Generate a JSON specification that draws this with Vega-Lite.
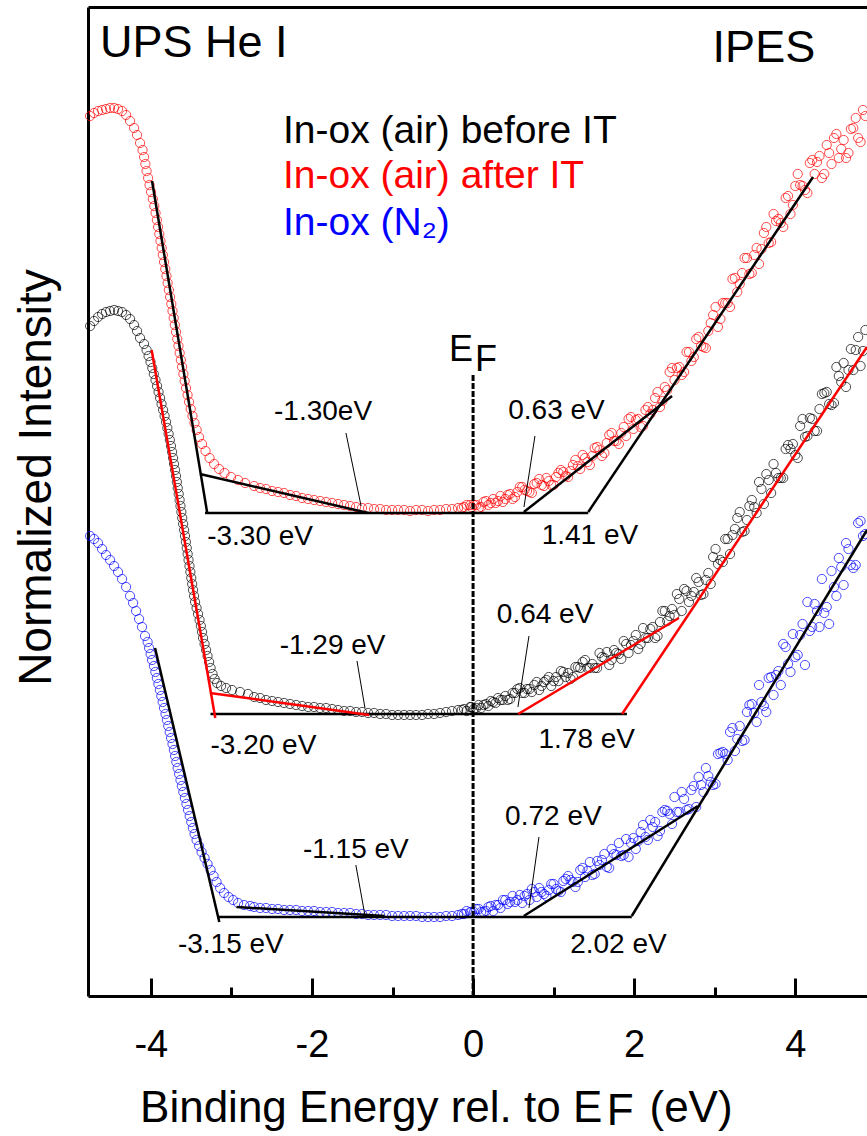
{
  "$schema": "https://vega.github.io/schema/vega-lite/v6.json",
  "width": 779,
  "height": 989,
  "autosize": "none",
  "padding": {"left": 88, "top": 7, "right": 0, "bottom": 140},
  "background": "white",
  "config": {"view": {"stroke": null}, "font": "Liberation Sans"},
  "datasets": {
    "spectra": [
      {"s":"after","x":-4.754,"y":880},{"s":"after","x":-4.705,"y":883},{"s":"after","x":-4.655,"y":885},{"s":"after","x":-4.605,"y":886},{"s":"after","x":-4.556,"y":887},{"s":"after","x":-4.506,"y":888},{"s":"after","x":-4.456,"y":888},{"s":"after","x":-4.407,"y":887},{"s":"after","x":-4.357,"y":885},{"s":"after","x":-4.307,"y":881},{"s":"after","x":-4.258,"y":875},{"s":"after","x":-4.208,"y":868},{"s":"after","x":-4.171,"y":861},{"s":"after","x":-4.134,"y":853},
      {"s":"after","x":-4.103,"y":846},{"s":"after","x":-4.084,"y":839},{"s":"after","x":-4.068,"y":832},{"s":"after","x":-4.053,"y":825},{"s":"after","x":-4.034,"y":818},{"s":"after","x":-4.016,"y":811},{"s":"after","x":-3.997,"y":804},{"s":"after","x":-3.975,"y":797},{"s":"after","x":-3.957,"y":790},{"s":"after","x":-3.941,"y":783},{"s":"after","x":-3.925,"y":776},{"s":"after","x":-3.910,"y":769},{"s":"after","x":-3.895,"y":762},{"s":"after","x":-3.880,"y":755},{"s":"after","x":-3.865,"y":748},{"s":"after","x":-3.851,"y":741},{"s":"after","x":-3.836,"y":734},{"s":"after","x":-3.821,"y":727},{"s":"after","x":-3.806,"y":720},{"s":"after","x":-3.791,"y":713},{"s":"after","x":-3.776,"y":706},{"s":"after","x":-3.761,"y":699},{"s":"after","x":-3.746,"y":692},{"s":"after","x":-3.731,"y":685},{"s":"after","x":-3.716,"y":678},{"s":"after","x":-3.702,"y":671},{"s":"after","x":-3.687,"y":664},{"s":"after","x":-3.672,"y":657},{"s":"after","x":-3.657,"y":650},{"s":"after","x":-3.642,"y":643},{"s":"after","x":-3.627,"y":636},{"s":"after","x":-3.612,"y":629},{"s":"after","x":-3.596,"y":622},{"s":"after","x":-3.580,"y":615},{"s":"after","x":-3.563,"y":608},{"s":"after","x":-3.544,"y":601},{"s":"after","x":-3.525,"y":594},{"s":"after","x":-3.505,"y":587},{"s":"after","x":-3.483,"y":580},{"s":"after","x":-3.458,"y":573},{"s":"after","x":-3.431,"y":566},{"s":"after","x":-3.401,"y":559},{"s":"after","x":-3.364,"y":552},{"s":"after","x":-3.321,"y":545},{"s":"after","x":-3.271,"y":538},{"s":"after","x":-3.215,"y":532},{"s":"after","x":-3.153,"y":527},{"s":"after","x":-3.085,"y":523},{"s":"after","x":-3.004,"y":519},{"s":"after","x":-2.917,"y":516},{"s":"after","x":-2.830,"y":513},
      {"s":"after","x":-2.718,"y":510},{"s":"after","x":-2.644,"y":508},{"s":"after","x":-2.570,"y":507},{"s":"after","x":-2.495,"y":505},{"s":"after","x":-2.421,"y":504},{"s":"after","x":-2.346,"y":503},{"s":"after","x":-2.272,"y":501},{"s":"after","x":-2.197,"y":500},{"s":"after","x":-2.123,"y":498},{"s":"after","x":-2.048,"y":497},{"s":"after","x":-1.974,"y":496},{"s":"after","x":-1.899,"y":495},{"s":"after","x":-1.825,"y":494},{"s":"after","x":-1.750,"y":493},{"s":"after","x":-1.676,"y":492},{"s":"after","x":-1.601,"y":491},{"s":"after","x":-1.527,"y":490},{"s":"after","x":-1.452,"y":489},{"s":"after","x":-1.378,"y":488},{"s":"after","x":-1.303,"y":488},{"s":"after","x":-1.229,"y":487},{"s":"after","x":-1.154,"y":487},{"s":"after","x":-1.080,"y":486},{"s":"after","x":-1.005,"y":486},{"s":"after","x":-0.931,"y":486},{"s":"after","x":-0.856,"y":486},{"s":"after","x":-0.782,"y":485},{"s":"after","x":-0.708,"y":486},{"s":"after","x":-0.633,"y":486},{"s":"after","x":-0.559,"y":485},{"s":"after","x":-0.484,"y":486},{"s":"after","x":-0.410,"y":486},{"s":"after","x":-0.335,"y":487},{"s":"after","x":-0.261,"y":487},{"s":"after","x":-0.186,"y":488},{"s":"after","x":-0.112,"y":489},{"s":"after","x":-0.037,"y":491},
      {"s":"after","x":-0.14,"y":488},{"s":"after","x":-0.08,"y":491},{"s":"after","x":-0.02,"y":489},{"s":"after","x":0.04,"y":491},{"s":"after","x":0.10,"y":489},{"s":"after","x":0.16,"y":495},{"s":"after","x":0.22,"y":493},{"s":"after","x":0.28,"y":493},{"s":"after","x":0.34,"y":500},{"s":"after","x":0.40,"y":497},{"s":"after","x":0.46,"y":502},{"s":"after","x":0.52,"y":499},{"s":"after","x":0.58,"y":509},{"s":"after","x":0.64,"y":506},{"s":"after","x":0.70,"y":504},{"s":"after","x":0.76,"y":512},{"s":"after","x":0.82,"y":517},{"s":"after","x":0.88,"y":510},{"s":"after","x":0.94,"y":515},{"s":"after","x":1.00,"y":511},{"s":"after","x":1.06,"y":523},{"s":"after","x":1.12,"y":524},{"s":"after","x":1.18,"y":519},{"s":"after","x":1.24,"y":531},{"s":"after","x":1.30,"y":530},{"s":"after","x":1.36,"y":541},{"s":"after","x":1.42,"y":534},{"s":"after","x":1.48,"y":540},{"s":"after","x":1.54,"y":549},{"s":"after","x":1.60,"y":540},{"s":"after","x":1.66,"y":553},{"s":"after","x":1.72,"y":563},{"s":"after","x":1.78,"y":555},{"s":"after","x":1.84,"y":563},{"s":"after","x":1.90,"y":560},{"s":"after","x":1.96,"y":579},{"s":"after","x":2.02,"y":576},{"s":"after","x":2.08,"y":569},{"s":"after","x":2.14,"y":586},{"s":"after","x":2.20,"y":582},{"s":"after","x":2.26,"y":598},{"s":"after","x":2.32,"y":589},{"s":"after","x":2.38,"y":609},{"s":"after","x":2.44,"y":624},{"s":"after","x":2.50,"y":616},{"s":"after","x":2.56,"y":629},{"s":"after","x":2.62,"y":624},{"s":"after","x":2.68,"y":644},{"s":"after","x":2.74,"y":639},{"s":"after","x":2.80,"y":659},{"s":"after","x":2.86,"y":649},{"s":"after","x":2.92,"y":665},{"s":"after","x":2.98,"y":681},{"s":"after","x":3.04,"y":669},{"s":"after","x":3.10,"y":693},{"s":"after","x":3.16,"y":693},{"s":"after","x":3.22,"y":717},{"s":"after","x":3.28,"y":704},{"s":"after","x":3.34,"y":723},{"s":"after","x":3.40,"y":738},{"s":"after","x":3.46,"y":723},{"s":"after","x":3.52,"y":748},{"s":"after","x":3.58,"y":747},{"s":"after","x":3.64,"y":769},{"s":"after","x":3.70,"y":754},{"s":"after","x":3.76,"y":775},{"s":"after","x":3.82,"y":773},{"s":"after","x":3.88,"y":798},{"s":"after","x":3.94,"y":782},{"s":"after","x":4.00,"y":810},{"s":"after","x":4.06,"y":811},{"s":"after","x":4.12,"y":806},{"s":"after","x":4.18,"y":833},{"s":"after","x":4.24,"y":822},{"s":"after","x":4.30,"y":840},{"s":"after","x":4.36,"y":822},{"s":"after","x":4.42,"y":843},{"s":"after","x":4.48,"y":858},{"s":"after","x":4.54,"y":838},{"s":"after","x":4.60,"y":856},{"s":"after","x":4.66,"y":843},{"s":"after","x":4.72,"y":868},{"s":"after","x":4.78,"y":858},{"s":"after","x":4.84,"y":886},
      {"s":"after","x":0.01,"y":491},{"s":"after","x":0.07,"y":488},{"s":"after","x":0.13,"y":494},{"s":"after","x":0.19,"y":491},{"s":"after","x":0.25,"y":497},{"s":"after","x":0.31,"y":495},{"s":"after","x":0.37,"y":494},{"s":"after","x":0.43,"y":501},{"s":"after","x":0.49,"y":497},{"s":"after","x":0.55,"y":504},{"s":"after","x":0.61,"y":509},{"s":"after","x":0.67,"y":505},{"s":"after","x":0.73,"y":503},{"s":"after","x":0.79,"y":513},{"s":"after","x":0.85,"y":511},{"s":"after","x":0.91,"y":518},{"s":"after","x":0.97,"y":511},{"s":"after","x":1.03,"y":519},{"s":"after","x":1.09,"y":526},{"s":"after","x":1.15,"y":520},{"s":"after","x":1.21,"y":525},{"s":"after","x":1.27,"y":536},{"s":"after","x":1.33,"y":527},{"s":"after","x":1.39,"y":538},{"s":"after","x":1.45,"y":531},{"s":"after","x":1.51,"y":548},{"s":"after","x":1.57,"y":546},{"s":"after","x":1.63,"y":543},{"s":"after","x":1.69,"y":561},{"s":"after","x":1.75,"y":555},{"s":"after","x":1.81,"y":552},{"s":"after","x":1.87,"y":569},{"s":"after","x":1.93,"y":577},{"s":"after","x":1.99,"y":567},{"s":"after","x":2.05,"y":577},{"s":"after","x":2.11,"y":570},{"s":"after","x":2.17,"y":589},{"s":"after","x":2.23,"y":586},{"s":"after","x":2.29,"y":604},{"s":"after","x":2.35,"y":595},{"s":"after","x":2.41,"y":606},{"s":"after","x":2.47,"y":628},{"s":"after","x":2.53,"y":628},{"s":"after","x":2.59,"y":621},{"s":"after","x":2.65,"y":644},{"s":"after","x":2.71,"y":635},{"s":"after","x":2.77,"y":657},{"s":"after","x":2.83,"y":650},{"s":"after","x":2.89,"y":648},{"s":"after","x":2.95,"y":673},{"s":"after","x":3.01,"y":689},{"s":"after","x":3.07,"y":677},{"s":"after","x":3.13,"y":693},{"s":"after","x":3.19,"y":689},{"s":"after","x":3.25,"y":718},{"s":"after","x":3.31,"y":712},{"s":"after","x":3.37,"y":738},{"s":"after","x":3.43,"y":722},{"s":"after","x":3.49,"y":741},{"s":"after","x":3.55,"y":732},{"s":"after","x":3.61,"y":763},{"s":"after","x":3.67,"y":753},{"s":"after","x":3.73,"y":782},{"s":"after","x":3.79,"y":777},{"s":"after","x":3.85,"y":769},{"s":"after","x":3.91,"y":800},{"s":"after","x":3.97,"y":791},{"s":"after","x":4.03,"y":822},{"s":"after","x":4.09,"y":810},{"s":"after","x":4.15,"y":803},{"s":"after","x":4.21,"y":836},{"s":"after","x":4.27,"y":834},{"s":"after","x":4.33,"y":818},{"s":"after","x":4.39,"y":851},{"s":"after","x":4.45,"y":832},{"s":"after","x":4.51,"y":862},{"s":"after","x":4.57,"y":847},{"s":"after","x":4.63,"y":838},{"s":"after","x":4.69,"y":867},{"s":"after","x":4.75,"y":878},{"s":"after","x":4.81,"y":854},{"s":"after","x":4.87,"y":880},

      {"s":"before","x":-4.754,"y":670},{"s":"before","x":-4.705,"y":675},{"s":"before","x":-4.655,"y":679},{"s":"before","x":-4.605,"y":682},{"s":"before","x":-4.556,"y":684},{"s":"before","x":-4.506,"y":685},{"s":"before","x":-4.456,"y":686},{"s":"before","x":-4.407,"y":685},{"s":"before","x":-4.357,"y":684},{"s":"before","x":-4.307,"y":681},{"s":"before","x":-4.258,"y":677},{"s":"before","x":-4.208,"y":671},{"s":"before","x":-4.171,"y":665},
      {"s":"before","x":-4.134,"y":658},{"s":"before","x":-4.084,"y":652},{"s":"before","x":-4.053,"y":646},{"s":"before","x":-4.028,"y":640},{"s":"before","x":-4.004,"y":634},{"s":"before","x":-3.982,"y":628},{"s":"before","x":-3.963,"y":622},{"s":"before","x":-3.942,"y":616},{"s":"before","x":-3.923,"y":610},{"s":"before","x":-3.904,"y":604},{"s":"before","x":-3.885,"y":598},{"s":"before","x":-3.867,"y":592},{"s":"before","x":-3.848,"y":586},{"s":"before","x":-3.829,"y":580},{"s":"before","x":-3.811,"y":574},{"s":"before","x":-3.795,"y":568},{"s":"before","x":-3.779,"y":562},{"s":"before","x":-3.764,"y":556},{"s":"before","x":-3.750,"y":550},{"s":"before","x":-3.736,"y":544},{"s":"before","x":-3.724,"y":538},{"s":"before","x":-3.712,"y":532},{"s":"before","x":-3.699,"y":526},{"s":"before","x":-3.688,"y":520},{"s":"before","x":-3.677,"y":514},{"s":"before","x":-3.666,"y":508},{"s":"before","x":-3.654,"y":502},{"s":"before","x":-3.643,"y":496},{"s":"before","x":-3.632,"y":490},{"s":"before","x":-3.621,"y":484},{"s":"before","x":-3.610,"y":478},{"s":"before","x":-3.599,"y":472},{"s":"before","x":-3.587,"y":466},{"s":"before","x":-3.576,"y":460},{"s":"before","x":-3.565,"y":454},{"s":"before","x":-3.554,"y":448},{"s":"before","x":-3.543,"y":442},{"s":"before","x":-3.532,"y":436},{"s":"before","x":-3.520,"y":430},{"s":"before","x":-3.509,"y":424},{"s":"before","x":-3.498,"y":418},{"s":"before","x":-3.487,"y":412},{"s":"before","x":-3.476,"y":406},{"s":"before","x":-3.463,"y":400},{"s":"before","x":-3.451,"y":394},{"s":"before","x":-3.432,"y":388},{"s":"before","x":-3.414,"y":382},{"s":"before","x":-3.395,"y":376},{"s":"before","x":-3.379,"y":370},{"s":"before","x":-3.364,"y":364},{"s":"before","x":-3.352,"y":358},{"s":"before","x":-3.333,"y":352},{"s":"before","x":-3.314,"y":346},{"s":"before","x":-3.296,"y":340},{"s":"before","x":-3.277,"y":334},{"s":"before","x":-3.258,"y":328},{"s":"before","x":-3.234,"y":322},{"s":"before","x":-3.209,"y":317},{"s":"before","x":-3.178,"y":313},{"s":"before","x":-3.128,"y":310},{"s":"before","x":-3.066,"y":308},{"s":"before","x":-2.992,"y":306},{"s":"before","x":-2.892,"y":304},{"s":"before","x":-2.793,"y":302},
      {"s":"before","x":-2.718,"y":299},{"s":"before","x":-2.644,"y":298},{"s":"before","x":-2.570,"y":296},{"s":"before","x":-2.495,"y":295},{"s":"before","x":-2.421,"y":294},{"s":"before","x":-2.346,"y":293},{"s":"before","x":-2.272,"y":292},{"s":"before","x":-2.197,"y":291},{"s":"before","x":-2.123,"y":290},{"s":"before","x":-2.048,"y":289},{"s":"before","x":-1.974,"y":289},{"s":"before","x":-1.899,"y":288},{"s":"before","x":-1.825,"y":288},{"s":"before","x":-1.750,"y":287},{"s":"before","x":-1.676,"y":286},{"s":"before","x":-1.601,"y":285},{"s":"before","x":-1.527,"y":285},{"s":"before","x":-1.452,"y":284},{"s":"before","x":-1.378,"y":284},{"s":"before","x":-1.303,"y":283},{"s":"before","x":-1.229,"y":283},{"s":"before","x":-1.154,"y":282},{"s":"before","x":-1.080,"y":282},{"s":"before","x":-1.005,"y":281},{"s":"before","x":-0.931,"y":281},{"s":"before","x":-0.856,"y":281},{"s":"before","x":-0.782,"y":281},{"s":"before","x":-0.708,"y":281},{"s":"before","x":-0.633,"y":281},{"s":"before","x":-0.559,"y":282},{"s":"before","x":-0.484,"y":282},{"s":"before","x":-0.410,"y":283},{"s":"before","x":-0.335,"y":284},{"s":"before","x":-0.261,"y":285},{"s":"before","x":-0.186,"y":286},{"s":"before","x":-0.112,"y":287},{"s":"before","x":-0.037,"y":289},
      {"s":"before","x":-0.14,"y":286},{"s":"before","x":-0.08,"y":285},{"s":"before","x":-0.02,"y":289},{"s":"before","x":0.04,"y":288},{"s":"before","x":0.10,"y":288},{"s":"before","x":0.16,"y":292},{"s":"before","x":0.22,"y":295},{"s":"before","x":0.28,"y":293},{"s":"before","x":0.34,"y":296},{"s":"before","x":0.40,"y":300},{"s":"before","x":0.46,"y":297},{"s":"before","x":0.52,"y":303},{"s":"before","x":0.58,"y":308},{"s":"before","x":0.64,"y":303},{"s":"before","x":0.70,"y":307},{"s":"before","x":0.76,"y":311},{"s":"before","x":0.82,"y":306},{"s":"before","x":0.88,"y":314},{"s":"before","x":0.94,"y":319},{"s":"before","x":1.00,"y":315},{"s":"before","x":1.06,"y":315},{"s":"before","x":1.12,"y":324},{"s":"before","x":1.18,"y":323},{"s":"before","x":1.24,"y":319},{"s":"before","x":1.30,"y":329},{"s":"before","x":1.36,"y":334},{"s":"before","x":1.42,"y":328},{"s":"before","x":1.48,"y":332},{"s":"before","x":1.54,"y":328},{"s":"before","x":1.60,"y":339},{"s":"before","x":1.66,"y":344},{"s":"before","x":1.72,"y":336},{"s":"before","x":1.78,"y":343},{"s":"before","x":1.84,"y":337},{"s":"before","x":1.90,"y":352},{"s":"before","x":1.96,"y":351},{"s":"before","x":2.02,"y":361},{"s":"before","x":2.08,"y":352},{"s":"before","x":2.14,"y":358},{"s":"before","x":2.20,"y":367},{"s":"before","x":2.26,"y":358},{"s":"before","x":2.32,"y":374},{"s":"before","x":2.38,"y":385},{"s":"before","x":2.44,"y":380},{"s":"before","x":2.50,"y":381},{"s":"before","x":2.56,"y":397},{"s":"before","x":2.62,"y":407},{"s":"before","x":2.68,"y":394},{"s":"before","x":2.74,"y":404},{"s":"before","x":2.80,"y":414},{"s":"before","x":2.86,"y":402},{"s":"before","x":2.92,"y":423},{"s":"before","x":2.98,"y":439},{"s":"before","x":3.04,"y":432},{"s":"before","x":3.10,"y":434},{"s":"before","x":3.16,"y":457},{"s":"before","x":3.22,"y":461},{"s":"before","x":3.28,"y":478},{"s":"before","x":3.34,"y":464},{"s":"before","x":3.40,"y":476},{"s":"before","x":3.46,"y":496},{"s":"before","x":3.52,"y":483},{"s":"before","x":3.58,"y":507},{"s":"before","x":3.64,"y":522},{"s":"before","x":3.70,"y":503},{"s":"before","x":3.76,"y":523},{"s":"before","x":3.82,"y":518},{"s":"before","x":3.88,"y":547},{"s":"before","x":3.94,"y":547},{"s":"before","x":4.00,"y":541},{"s":"before","x":4.06,"y":570},{"s":"before","x":4.12,"y":559},{"s":"before","x":4.18,"y":578},{"s":"before","x":4.24,"y":565},{"s":"before","x":4.30,"y":587},{"s":"before","x":4.36,"y":603},{"s":"before","x":4.42,"y":592},{"s":"before","x":4.48,"y":593},{"s":"before","x":4.54,"y":620},{"s":"before","x":4.60,"y":633},{"s":"before","x":4.66,"y":626},{"s":"before","x":4.72,"y":626},{"s":"before","x":4.78,"y":659},{"s":"before","x":4.84,"y":645},
      {"s":"before","x":0.01,"y":287},{"s":"before","x":0.07,"y":291},{"s":"before","x":0.13,"y":291},{"s":"before","x":0.19,"y":290},{"s":"before","x":0.25,"y":294},{"s":"before","x":0.31,"y":298},{"s":"before","x":0.37,"y":296},{"s":"before","x":0.43,"y":296},{"s":"before","x":0.49,"y":303},{"s":"before","x":0.55,"y":307},{"s":"before","x":0.61,"y":303},{"s":"before","x":0.67,"y":307},{"s":"before","x":0.73,"y":304},{"s":"before","x":0.79,"y":314},{"s":"before","x":0.85,"y":310},{"s":"before","x":0.91,"y":316},{"s":"before","x":0.97,"y":310},{"s":"before","x":1.03,"y":319},{"s":"before","x":1.09,"y":325},{"s":"before","x":1.15,"y":319},{"s":"before","x":1.21,"y":317},{"s":"before","x":1.27,"y":329},{"s":"before","x":1.33,"y":328},{"s":"before","x":1.39,"y":336},{"s":"before","x":1.45,"y":328},{"s":"before","x":1.51,"y":328},{"s":"before","x":1.57,"y":343},{"s":"before","x":1.63,"y":338},{"s":"before","x":1.69,"y":331},{"s":"before","x":1.75,"y":346},{"s":"before","x":1.81,"y":342},{"s":"before","x":1.87,"y":355},{"s":"before","x":1.93,"y":343},{"s":"before","x":1.99,"y":355},{"s":"before","x":2.05,"y":347},{"s":"before","x":2.11,"y":368},{"s":"before","x":2.17,"y":358},{"s":"before","x":2.23,"y":369},{"s":"before","x":2.29,"y":360},{"s":"before","x":2.35,"y":385},{"s":"before","x":2.41,"y":375},{"s":"before","x":2.47,"y":387},{"s":"before","x":2.53,"y":402},{"s":"before","x":2.59,"y":385},{"s":"before","x":2.65,"y":405},{"s":"before","x":2.71,"y":400},{"s":"before","x":2.77,"y":418},{"s":"before","x":2.83,"y":401},{"s":"before","x":2.89,"y":416},{"s":"before","x":2.95,"y":412},{"s":"before","x":3.01,"y":447},{"s":"before","x":3.07,"y":436},{"s":"before","x":3.13,"y":457},{"s":"before","x":3.19,"y":442},{"s":"before","x":3.25,"y":467},{"s":"before","x":3.31,"y":484},{"s":"before","x":3.37,"y":465},{"s":"before","x":3.43,"y":490},{"s":"before","x":3.49,"y":489},{"s":"before","x":3.55,"y":514},{"s":"before","x":3.61,"y":492},{"s":"before","x":3.67,"y":516},{"s":"before","x":3.73,"y":532},{"s":"before","x":3.79,"y":518},{"s":"before","x":3.85,"y":518},{"s":"before","x":3.91,"y":551},{"s":"before","x":3.97,"y":552},{"s":"before","x":4.03,"y":538},{"s":"before","x":4.09,"y":577},{"s":"before","x":4.15,"y":560},{"s":"before","x":4.21,"y":577},{"s":"before","x":4.27,"y":565},{"s":"before","x":4.33,"y":602},{"s":"before","x":4.39,"y":604},{"s":"before","x":4.45,"y":591},{"s":"before","x":4.51,"y":629},{"s":"before","x":4.57,"y":614},{"s":"before","x":4.63,"y":609},{"s":"before","x":4.69,"y":647},{"s":"before","x":4.75,"y":646},{"s":"before","x":4.81,"y":630},{"s":"before","x":4.87,"y":666},

      {"s":"N2","x":-4.754,"y":460},{"s":"N2","x":-4.705,"y":457},{"s":"N2","x":-4.655,"y":453},{"s":"N2","x":-4.605,"y":447},{"s":"N2","x":-4.556,"y":441},{"s":"N2","x":-4.506,"y":436},{"s":"N2","x":-4.456,"y":430},{"s":"N2","x":-4.407,"y":424},{"s":"N2","x":-4.357,"y":417},{"s":"N2","x":-4.307,"y":409},{"s":"N2","x":-4.258,"y":400},{"s":"N2","x":-4.220,"y":393},{"s":"N2","x":-4.183,"y":385},{"s":"N2","x":-4.146,"y":377},{"s":"N2","x":-4.109,"y":369},{"s":"N2","x":-4.072,"y":360},
      {"s":"N2","x":-4.040,"y":354},{"s":"N2","x":-4.022,"y":348},{"s":"N2","x":-4.003,"y":342},{"s":"N2","x":-3.985,"y":336},{"s":"N2","x":-3.962,"y":330},{"s":"N2","x":-3.944,"y":324},{"s":"N2","x":-3.925,"y":318},{"s":"N2","x":-3.906,"y":312},{"s":"N2","x":-3.888,"y":306},{"s":"N2","x":-3.870,"y":300},{"s":"N2","x":-3.853,"y":294},{"s":"N2","x":-3.836,"y":288},{"s":"N2","x":-3.818,"y":282},{"s":"N2","x":-3.801,"y":276},{"s":"N2","x":-3.784,"y":270},{"s":"N2","x":-3.766,"y":264},{"s":"N2","x":-3.749,"y":258},{"s":"N2","x":-3.731,"y":252},{"s":"N2","x":-3.714,"y":246},{"s":"N2","x":-3.699,"y":240},{"s":"N2","x":-3.683,"y":234},{"s":"N2","x":-3.667,"y":228},{"s":"N2","x":-3.649,"y":222},{"s":"N2","x":-3.632,"y":216},{"s":"N2","x":-3.615,"y":210},{"s":"N2","x":-3.597,"y":204},{"s":"N2","x":-3.577,"y":198},{"s":"N2","x":-3.558,"y":192},{"s":"N2","x":-3.538,"y":186},{"s":"N2","x":-3.518,"y":180},{"s":"N2","x":-3.498,"y":174},{"s":"N2","x":-3.478,"y":168},{"s":"N2","x":-3.457,"y":162},{"s":"N2","x":-3.432,"y":156},{"s":"N2","x":-3.401,"y":150},{"s":"N2","x":-3.370,"y":144},{"s":"N2","x":-3.333,"y":138},{"s":"N2","x":-3.296,"y":132},{"s":"N2","x":-3.258,"y":126},{"s":"N2","x":-3.221,"y":120},{"s":"N2","x":-3.184,"y":114},{"s":"N2","x":-3.140,"y":108},{"s":"N2","x":-3.091,"y":103},{"s":"N2","x":-3.035,"y":99},{"s":"N2","x":-2.979,"y":96},{"s":"N2","x":-2.917,"y":93},{"s":"N2","x":-2.843,"y":91},{"s":"N2","x":-2.768,"y":90},
      {"s":"N2","x":-2.718,"y":89},{"s":"N2","x":-2.644,"y":88},{"s":"N2","x":-2.570,"y":88},{"s":"N2","x":-2.495,"y":87},{"s":"N2","x":-2.421,"y":87},{"s":"N2","x":-2.346,"y":86},{"s":"N2","x":-2.272,"y":86},{"s":"N2","x":-2.197,"y":86},{"s":"N2","x":-2.123,"y":85},{"s":"N2","x":-2.048,"y":85},{"s":"N2","x":-1.974,"y":85},{"s":"N2","x":-1.899,"y":84},{"s":"N2","x":-1.825,"y":84},{"s":"N2","x":-1.750,"y":84},{"s":"N2","x":-1.676,"y":83},{"s":"N2","x":-1.601,"y":83},{"s":"N2","x":-1.527,"y":83},{"s":"N2","x":-1.452,"y":82},{"s":"N2","x":-1.378,"y":82},{"s":"N2","x":-1.303,"y":81},{"s":"N2","x":-1.229,"y":81},{"s":"N2","x":-1.154,"y":81},{"s":"N2","x":-1.080,"y":81},{"s":"N2","x":-1.005,"y":80},{"s":"N2","x":-0.931,"y":80},{"s":"N2","x":-0.856,"y":80},{"s":"N2","x":-0.782,"y":80},{"s":"N2","x":-0.708,"y":80},{"s":"N2","x":-0.633,"y":79},{"s":"N2","x":-0.559,"y":79},{"s":"N2","x":-0.484,"y":79},{"s":"N2","x":-0.410,"y":79},{"s":"N2","x":-0.335,"y":80},{"s":"N2","x":-0.261,"y":80},{"s":"N2","x":-0.186,"y":81},{"s":"N2","x":-0.112,"y":82},{"s":"N2","x":-0.037,"y":84},
      {"s":"N2","x":-0.14,"y":82},{"s":"N2","x":-0.08,"y":85},{"s":"N2","x":-0.02,"y":84},{"s":"N2","x":0.04,"y":87},{"s":"N2","x":0.10,"y":84},{"s":"N2","x":0.16,"y":85},{"s":"N2","x":0.22,"y":90},{"s":"N2","x":0.28,"y":91},{"s":"N2","x":0.34,"y":88},{"s":"N2","x":0.40,"y":96},{"s":"N2","x":0.46,"y":94},{"s":"N2","x":0.52,"y":94},{"s":"N2","x":0.58,"y":101},{"s":"N2","x":0.64,"y":100},{"s":"N2","x":0.70,"y":96},{"s":"N2","x":0.76,"y":104},{"s":"N2","x":0.82,"y":108},{"s":"N2","x":0.88,"y":102},{"s":"N2","x":0.94,"y":106},{"s":"N2","x":1.00,"y":112},{"s":"N2","x":1.06,"y":105},{"s":"N2","x":1.12,"y":115},{"s":"N2","x":1.18,"y":120},{"s":"N2","x":1.24,"y":114},{"s":"N2","x":1.30,"y":114},{"s":"N2","x":1.36,"y":128},{"s":"N2","x":1.42,"y":125},{"s":"N2","x":1.48,"y":121},{"s":"N2","x":1.54,"y":135},{"s":"N2","x":1.60,"y":136},{"s":"N2","x":1.66,"y":129},{"s":"N2","x":1.72,"y":147},{"s":"N2","x":1.78,"y":141},{"s":"N2","x":1.84,"y":140},{"s":"N2","x":1.90,"y":157},{"s":"N2","x":1.96,"y":153},{"s":"N2","x":2.02,"y":147},{"s":"N2","x":2.08,"y":164},{"s":"N2","x":2.14,"y":159},{"s":"N2","x":2.20,"y":176},{"s":"N2","x":2.26,"y":174},{"s":"N2","x":2.32,"y":165},{"s":"N2","x":2.38,"y":186},{"s":"N2","x":2.44,"y":182},{"s":"N2","x":2.50,"y":199},{"s":"N2","x":2.56,"y":184},{"s":"N2","x":2.62,"y":197},{"s":"N2","x":2.68,"y":187},{"s":"N2","x":2.74,"y":210},{"s":"N2","x":2.80,"y":219},{"s":"N2","x":2.86,"y":204},{"s":"N2","x":2.92,"y":220},{"s":"N2","x":2.98,"y":211},{"s":"N2","x":3.04,"y":242},{"s":"N2","x":3.10,"y":244},{"s":"N2","x":3.16,"y":236},{"s":"N2","x":3.22,"y":268},{"s":"N2","x":3.28,"y":257},{"s":"N2","x":3.34,"y":255},{"s":"N2","x":3.40,"y":284},{"s":"N2","x":3.46,"y":292},{"s":"N2","x":3.52,"y":274},{"s":"N2","x":3.58,"y":294},{"s":"N2","x":3.64,"y":284},{"s":"N2","x":3.70,"y":319},{"s":"N2","x":3.76,"y":321},{"s":"N2","x":3.82,"y":311},{"s":"N2","x":3.88,"y":349},{"s":"N2","x":3.94,"y":324},{"s":"N2","x":4.00,"y":339},{"s":"N2","x":4.06,"y":361},{"s":"N2","x":4.12,"y":331},{"s":"N2","x":4.18,"y":365},{"s":"N2","x":4.24,"y":392},{"s":"N2","x":4.30,"y":369},{"s":"N2","x":4.36,"y":383},{"s":"N2","x":4.42,"y":372},{"s":"N2","x":4.48,"y":409},{"s":"N2","x":4.54,"y":438},{"s":"N2","x":4.60,"y":411},{"s":"N2","x":4.66,"y":447},{"s":"N2","x":4.72,"y":428},{"s":"N2","x":4.78,"y":473},{"s":"N2","x":4.84,"y":460},
      {"s":"N2","x":0.01,"y":84},{"s":"N2","x":0.07,"y":87},{"s":"N2","x":0.13,"y":84},{"s":"N2","x":0.19,"y":89},{"s":"N2","x":0.25,"y":85},{"s":"N2","x":0.31,"y":91},{"s":"N2","x":0.37,"y":96},{"s":"N2","x":0.43,"y":92},{"s":"N2","x":0.49,"y":100},{"s":"N2","x":0.55,"y":96},{"s":"N2","x":0.61,"y":93},{"s":"N2","x":0.67,"y":102},{"s":"N2","x":0.73,"y":107},{"s":"N2","x":0.79,"y":99},{"s":"N2","x":0.85,"y":104},{"s":"N2","x":0.91,"y":100},{"s":"N2","x":0.97,"y":112},{"s":"N2","x":1.03,"y":107},{"s":"N2","x":1.09,"y":104},{"s":"N2","x":1.15,"y":117},{"s":"N2","x":1.21,"y":116},{"s":"N2","x":1.27,"y":109},{"s":"N2","x":1.33,"y":126},{"s":"N2","x":1.39,"y":119},{"s":"N2","x":1.45,"y":134},{"s":"N2","x":1.51,"y":122},{"s":"N2","x":1.57,"y":131},{"s":"N2","x":1.63,"y":142},{"s":"N2","x":1.69,"y":128},{"s":"N2","x":1.75,"y":142},{"s":"N2","x":1.81,"y":153},{"s":"N2","x":1.87,"y":141},{"s":"N2","x":1.93,"y":139},{"s":"N2","x":1.99,"y":158},{"s":"N2","x":2.05,"y":155},{"s":"N2","x":2.11,"y":171},{"s":"N2","x":2.17,"y":156},{"s":"N2","x":2.23,"y":169},{"s":"N2","x":2.29,"y":160},{"s":"N2","x":2.35,"y":184},{"s":"N2","x":2.41,"y":185},{"s":"N2","x":2.47,"y":172},{"s":"N2","x":2.53,"y":184},{"s":"N2","x":2.59,"y":204},{"s":"N2","x":2.65,"y":186},{"s":"N2","x":2.71,"y":206},{"s":"N2","x":2.77,"y":189},{"s":"N2","x":2.83,"y":211},{"s":"N2","x":2.89,"y":228},{"s":"N2","x":2.95,"y":214},{"s":"N2","x":3.01,"y":212},{"s":"N2","x":3.07,"y":243},{"s":"N2","x":3.13,"y":242},{"s":"N2","x":3.19,"y":264},{"s":"N2","x":3.25,"y":245},{"s":"N2","x":3.31,"y":270},{"s":"N2","x":3.37,"y":256},{"s":"N2","x":3.43,"y":291},{"s":"N2","x":3.49,"y":283},{"s":"N2","x":3.55,"y":311},{"s":"N2","x":3.61,"y":290},{"s":"N2","x":3.67,"y":318},{"s":"N2","x":3.73,"y":301},{"s":"N2","x":3.79,"y":325},{"s":"N2","x":3.85,"y":352},{"s":"N2","x":3.91,"y":332},{"s":"N2","x":3.97,"y":362},{"s":"N2","x":4.03,"y":341},{"s":"N2","x":4.09,"y":372},{"s":"N2","x":4.15,"y":394},{"s":"N2","x":4.21,"y":369},{"s":"N2","x":4.27,"y":385},{"s":"N2","x":4.33,"y":417},{"s":"N2","x":4.39,"y":389},{"s":"N2","x":4.45,"y":425},{"s":"N2","x":4.51,"y":400},{"s":"N2","x":4.57,"y":429},{"s":"N2","x":4.63,"y":453},{"s":"N2","x":4.69,"y":431},{"s":"N2","x":4.75,"y":431},{"s":"N2","x":4.81,"y":475},{"s":"N2","x":4.87,"y":462}
    ],
    "fits": [
      {"s":"after","x":-3.985,"y":815,"x2":-3.30,"y2":483},
      {"s":"after","x":-3.39,"y":522,"x2":-1.30,"y2":483},
      {"s":"after","x":0.63,"y":484,"x2":2.47,"y2":600},
      {"s":"after","x":1.43,"y":484,"x2":4.22,"y2":819},
      {"s":"before","x":-3.99,"y":646,"x2":-3.20,"y2":278},
      {"s":"before","x":-3.266,"y":303,"x2":-1.29,"y2":281},
      {"s":"before","x":0.56,"y":282,"x2":2.555,"y2":378},
      {"s":"before","x":1.85,"y":282,"x2":4.89,"y2":649},
      {"s":"N2","x":-3.948,"y":348,"x2":-3.15,"y2":74},
      {"s":"N2","x":-2.936,"y":89,"x2":-1.10,"y2":80},
      {"s":"N2","x":0.63,"y":80,"x2":2.79,"y2":190},
      {"s":"N2","x":1.97,"y":80,"x2":4.89,"y2":466}
    ],
    "baselines": [
      {"s":"after","x":-3.327,"x2":1.43,"y":483},
      {"s":"before","x":-3.26,"x2":1.91,"y":282},
      {"s":"N2","x":-3.176,"x2":1.97,"y":79}
    ],
    "pointers": [
      {"x":-1.578,"y":563,"x2":-1.39,"y2":490},
      {"x":0.768,"y":560,"x2":0.632,"y2":489},
      {"x":-1.441,"y":335,"x2":-1.342,"y2":288},
      {"x":0.694,"y":360,"x2":0.557,"y2":289},
      {"x":-1.455,"y":131,"x2":-1.343,"y2":81},
      {"x":0.818,"y":159,"x2":0.694,"y2":88}
    ],
    "labels": [
      {"x":-1.862,"y":584,"label":"-1.30eV"},
      {"x":-2.644,"y":459,"label":"-3.30 eV"},
      {"x":1.036,"y":585,"label":"0.63 eV"},
      {"x":1.451,"y":460,"label":"1.41 eV"},
      {"x":-1.744,"y":350,"label":"-1.29 eV"},
      {"x":-2.603,"y":250,"label":"-3.20 eV"},
      {"x":0.894,"y":381,"label":"0.64 eV"},
      {"x":1.411,"y":256,"label":"1.78 eV"},
      {"x":-1.455,"y":146,"label":"-1.15 eV"},
      {"x":-3.007,"y":51,"label":"-3.15 eV"},
      {"x":0.997,"y":179,"label":"0.72 eV"},
      {"x":1.804,"y":51,"label":"2.02 eV"}
    ],
    "legend": [
      {"s":"before","label":"In-ox (air) before IT","x":-2.36,"y":865},
      {"s":"after","label":"In-ox (air) after IT","x":-2.36,"y":820},
      {"s":"N2","label":"In-ox (N₂)","x":-2.36,"y":773}
    ]
  },
  "layer": [
    {
      "data": {"name": "spectra"},
      "mark": {"type": "point", "shape": "circle", "filled": false, "size": 85, "strokeWidth": 1},
      "encoding": {
        "x": {"field": "x", "type": "quantitative", "scale": {"domain": [-4.78, 4.89], "nice": false, "zero": false},
          "axis": {"orient": "bottom", "values": [-4, -2, 0, 2, 4], "tickSize": -18, "tickWidth": 3, "tickColor": "black", "domainWidth": 3, "domainColor": "black", "labelFontSize": 38, "labelFont": "Liberation Sans", "labelColor": "black", "labelPadding": 48, "labelExpr": "'' + datum.value", "labelFlush": false, "labelOverlap": false, "grid": false, "title": null}},
        "y": {"field": "y", "type": "quantitative", "scale": {"domain": [0, 989], "nice": false, "zero": false},
          "axis": {"orient": "left", "ticks": false, "labels": false, "grid": false, "domainWidth": 3, "domainColor": "black", "title": "Normalized Intensity", "titleFont": "Liberation Sans", "titleFontSize": 46, "titleFontWeight": "normal", "titleColor": "black", "titlePadding": 28, "titleY": 470}},
        "color": {"field": "s", "type": "nominal", "scale": {"domain": ["before", "after", "N2"], "range": ["#000000", "#ff0000", "#0000ff"]}, "legend": null}
      }
    },
    {
      "data": {"values": [{}]},
      "mark": {"type": "rule", "strokeDash": [6, 2], "strokeWidth": 3, "color": "black"},
      "encoding": {
        "x": {"datum": 0, "type": "quantitative", "scale": {"domain": [-4.78, 4.89], "nice": false, "zero": false}, "axis": null},
        "y": {"datum": 621, "type": "quantitative", "scale": {"domain": [0, 989], "nice": false, "zero": false}, "axis": null},
        "y2": {"datum": 0}
      }
    },
    {
      "data": {"name": "baselines"},
      "mark": {"type": "rule", "strokeWidth": 2.5, "color": "black"},
      "encoding": {
        "x": {"field": "x", "type": "quantitative", "scale": {"domain": [-4.78, 4.89], "nice": false, "zero": false},
          "axis": {"orient": "bottom", "values": [-3, -1, 1, 3], "tickSize": -9, "tickWidth": 3, "tickColor": "black", "labels": false, "domain": false, "grid": false, "title": null}},
        "x2": {"field": "x2"},
        "y": {"field": "y", "type": "quantitative", "scale": {"domain": [0, 989], "nice": false, "zero": false}, "axis": null}
      }
    },
    {
      "data": {"name": "fits"},
      "transform": [{"filter": "datum.s !== 'before'"}],
      "mark": {"type": "rule", "strokeWidth": 2.5, "color": "black"},
      "encoding": {
        "x": {"field": "x", "type": "quantitative", "scale": {"domain": [-4.78, 4.89], "nice": false, "zero": false},
          "axis": {"orient": "top", "ticks": false, "labels": false, "grid": false, "domainWidth": 3, "domainColor": "black", "title": null}},
        "x2": {"field": "x2"},
        "y": {"field": "y", "type": "quantitative", "scale": {"domain": [0, 989], "nice": false, "zero": false}, "axis": null},
        "y2": {"field": "y2"}
      }
    },
    {
      "data": {"name": "fits"},
      "transform": [{"filter": "datum.s === 'before'"}],
      "mark": {"type": "rule", "strokeWidth": 2.5, "color": "#ff0000"},
      "encoding": {
        "x": {"field": "x", "type": "quantitative", "scale": {"domain": [-4.78, 4.89], "nice": false, "zero": false}, "axis": null},
        "x2": {"field": "x2"},
        "y": {"field": "y", "type": "quantitative", "scale": {"domain": [0, 989], "nice": false, "zero": false}, "axis": null},
        "y2": {"field": "y2"}
      }
    },
    {
      "data": {"name": "pointers"},
      "mark": {"type": "rule", "strokeWidth": 1, "color": "black"},
      "encoding": {
        "x": {"field": "x", "type": "quantitative", "scale": {"domain": [-4.78, 4.89], "nice": false, "zero": false}, "axis": null},
        "x2": {"field": "x2"},
        "y": {"field": "y", "type": "quantitative", "scale": {"domain": [0, 989], "nice": false, "zero": false}, "axis": null},
        "y2": {"field": "y2"}
      }
    },
    {
      "data": {"name": "labels"},
      "mark": {"type": "text", "fontSize": 28, "font": "Liberation Sans", "align": "center", "baseline": "middle", "color": "black"},
      "encoding": {
        "x": {"field": "x", "type": "quantitative", "scale": {"domain": [-4.78, 4.89], "nice": false, "zero": false}, "axis": null},
        "y": {"field": "y", "type": "quantitative", "scale": {"domain": [0, 989], "nice": false, "zero": false}, "axis": null},
        "text": {"field": "label"}
      }
    },
    {
      "data": {"name": "legend"},
      "mark": {"type": "text", "fontSize": 39, "font": "Liberation Sans", "align": "left", "baseline": "middle"},
      "encoding": {
        "x": {"field": "x", "type": "quantitative", "scale": {"domain": [-4.78, 4.89], "nice": false, "zero": false}, "axis": null},
        "y": {"field": "y", "type": "quantitative", "scale": {"domain": [0, 989], "nice": false, "zero": false}, "axis": null},
        "text": {"field": "label"},
        "color": {"field": "s", "type": "nominal", "scale": {"domain": ["before", "after", "N2"], "range": ["#000000", "#ff0000", "#0000ff"]}, "legend": null}
      }
    },
    {
      "data": {"values": [{"label": "UPS He I", "x": -4.631, "y": 953}]},
      "mark": {"type": "text", "fontSize": 45, "font": "Liberation Sans", "align": "left", "baseline": "middle", "color": "black"},
      "encoding": {
        "x": {"field": "x", "type": "quantitative", "scale": {"domain": [-4.78, 4.89], "nice": false, "zero": false}, "axis": null},
        "y": {"field": "y", "type": "quantitative", "scale": {"domain": [0, 989], "nice": false, "zero": false}, "axis": null},
        "text": {"field": "label"}
      }
    },
    {
      "data": {"values": [{"label": "Binding Energy rel. to E", "x": -4.134, "y": -113}, {"label": "F", "x": 1.66, "y": -116}, {"label": "(eV)", "x": 2.19, "y": -113}]},
      "mark": {"type": "text", "fontSize": 44, "font": "Liberation Sans", "align": "left", "baseline": "middle", "color": "black"},
      "encoding": {
        "x": {"field": "x", "type": "quantitative", "scale": {"domain": [-4.78, 4.89], "nice": false, "zero": false}, "axis": null},
        "y": {"field": "y", "type": "quantitative", "scale": {"domain": [0, 989], "nice": false, "zero": false}, "axis": null},
        "text": {"field": "label"}
      }
    },
    {
      "data": {"values": [{"label": "IPES", "x": 3.61, "y": 948}]},
      "mark": {"type": "text", "fontSize": 45, "font": "Liberation Sans", "align": "center", "baseline": "middle", "color": "black"},
      "encoding": {
        "x": {"field": "x", "type": "quantitative", "scale": {"domain": [-4.78, 4.89], "nice": false, "zero": false}, "axis": null},
        "y": {"field": "y", "type": "quantitative", "scale": {"domain": [0, 989], "nice": false, "zero": false}, "axis": null},
        "text": {"field": "label"}
      }
    },
    {
      "data": {"values": [{"label": "E", "x": -0.149, "y": 646}, {"label": "F", "x": 0.161, "y": 636}]},
      "mark": {"type": "text", "fontSize": 36, "font": "Liberation Sans", "align": "center", "baseline": "middle", "color": "black"},
      "encoding": {
        "x": {"field": "x", "type": "quantitative", "scale": {"domain": [-4.78, 4.89], "nice": false, "zero": false}, "axis": null},
        "y": {"field": "y", "type": "quantitative", "scale": {"domain": [0, 989], "nice": false, "zero": false}, "axis": null},
        "text": {"field": "label"}
      }
    }
  ],
  "resolve": {"axis": {"x": "independent", "y": "independent"}}
}
